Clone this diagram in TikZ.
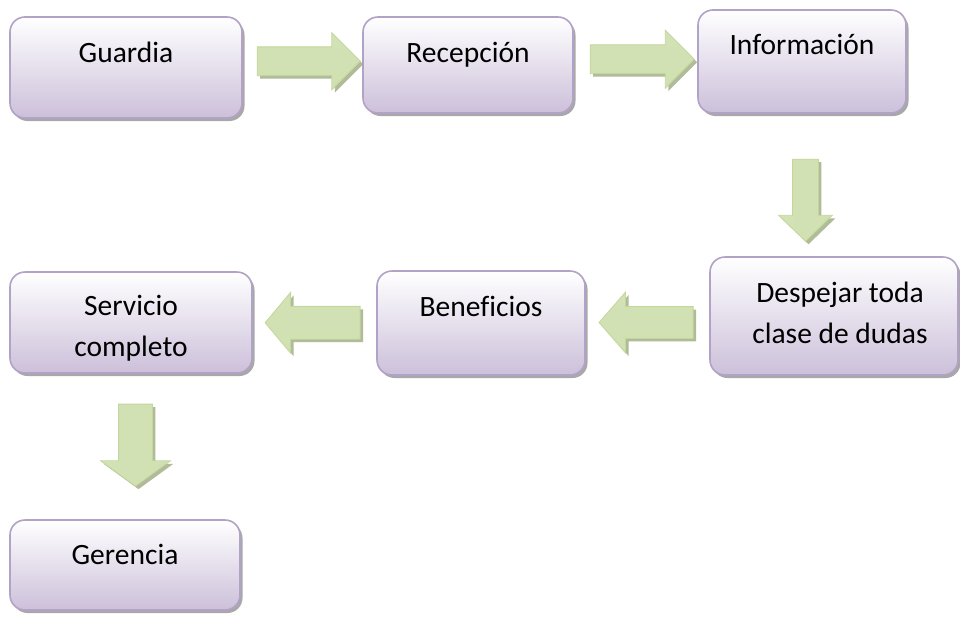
\documentclass[tikz,border=0pt]{standalone}
\usepackage{fontspec}
\setmainfont[Ligatures=NoCommon]{Carlito}
\usetikzlibrary{shapes.arrows,shadows,calc}

\definecolor{boxedge}{HTML}{B3A2C7}
\definecolor{boxlow}{HTML}{CCC0DA}
\definecolor{arrowedge}{HTML}{C3D69B}
\definecolor{arrowlight}{HTML}{EEF3E2}
\definecolor{arrowmid}{HTML}{D3E2B5}
\definecolor{arrowshade}{HTML}{9DAA80}

\begin{document}
\begin{tikzpicture}[x=1pt,y=-1pt,
  stepbox/.style={draw=boxedge, line width=1.6pt, rounded corners=15pt,
    top color=white, bottom color=boxlow, inner sep=0pt, outer sep=0pt,
    drop shadow={shadow xshift=2.5pt, shadow yshift=-3pt, fill=black!45, opacity=0.75}},
  steptext/.style={anchor=north, inner sep=0pt, align=center,
    font=\fontsize{29.5}{41}\selectfont},
  flowarrow/.style={single arrow, draw=arrowedge, line width=0.8pt,
    outer sep=0pt,
    drop shadow={shadow xshift=3pt, shadow yshift=-3pt, fill=arrowshade, opacity=0.8}},
  harrow/.style={flowarrow, inner xsep=0pt, top color=arrowmid, middle color=arrowlight, bottom color=arrowmid!85!arrowedge},
  varrow/.style={flowarrow, inner ysep=0pt, left color=arrowmid, middle color=arrowlight, right color=arrowmid!85!arrowedge}]

\fill[white] (0,0) rectangle (960,616);
\useasboundingbox (0,0) rectangle (960,616);

% process steps
\node[stepbox, minimum width=232, minimum height=101] (guardia)     at (126,67.5) {};
\node[stepbox, minimum width=210, minimum height=96]  (recepcion)   at (468,65)   {};
\node[stepbox, minimum width=208, minimum height=103] (informacion) at (802,61.5) {};
\node[stepbox, minimum width=248, minimum height=118] (despejar)    at (834,316)  {};
\node[stepbox, minimum width=208, minimum height=104] (beneficios)  at (481,323)  {};
\node[stepbox, minimum width=242, minimum height=101] (servicio)    at (131,322.5) {};
\node[stepbox, minimum width=230, minimum height=90]  (gerencia)    at (125,565)  {};

% step captions, set at the top of each box
\node[steptext] (guardiaT)     at ([yshift=-17pt]guardia.north)     {\strut Guardia};
\node[steptext] (recepcionT)   at ([yshift=-17pt]recepcion.north)   {\strut Recepción};
\node[steptext] (informacionT) at ([yshift=-16pt]informacion.north) {\strut Información};
\node[steptext] (despejarT)    at ([xshift=6pt,yshift=-17pt]despejar.north) {\strut Despejar toda\\\strut clase de dudas};
\node[steptext] (beneficiosT)  at ([yshift=-17pt]beneficios.north)  {\strut Beneficios};
\node[steptext] (servicioT)    at ([yshift=-15pt]servicio.north)    {\strut Servicio\\\strut completo};
\node[steptext] (gerenciaT)    at ([yshift=-16pt]gerencia.north)    {\strut Gerencia};

% block arrows between consecutive steps
\node[harrow, minimum height=103, inner ysep=14pt, single arrow head extend=14pt,
      single arrow tip angle=90] (a1)
  at ($(guardia.east)!.5!(recepcion.west)+(-1,-5)$) {};
\node[harrow, minimum height=104, inner ysep=14pt, single arrow head extend=14.5pt,
      single arrow tip angle=90] (a2)
  at ($(recepcion.east)!.5!(informacion.west)+(-0.5,-4)$) {};
\node[varrow, shape border rotate=270, minimum height=82, inner xsep=12.5pt,
      single arrow head extend=14pt, single arrow tip angle=92] (a3)
  at ($(informacion.south)!.5!(despejar.north)+(-12.5,9)$) {};
\node[harrow, shape border rotate=180, minimum height=94, inner ysep=15.5pt,
      single arrow head extend=14.5pt, single arrow tip angle=98] (a4)
  at ($(despejar.west)!.5!(beneficios.east)+(5.5,3)$) {};
\node[harrow, shape border rotate=180, minimum height=95, inner ysep=16pt,
      single arrow head extend=14pt, single arrow tip angle=100] (a5)
  at ($(beneficios.west)!.5!(servicio.east)+(5,0)$) {};
\node[varrow, shape border rotate=270, minimum height=82, inner xsep=16.5pt,
      single arrow head extend=18pt, single arrow tip angle=108] (a6)
  at ($(servicio.south)!.5!(gerencia.north)+(7.5,-7.5)$) {};
\end{tikzpicture}
\end{document}
